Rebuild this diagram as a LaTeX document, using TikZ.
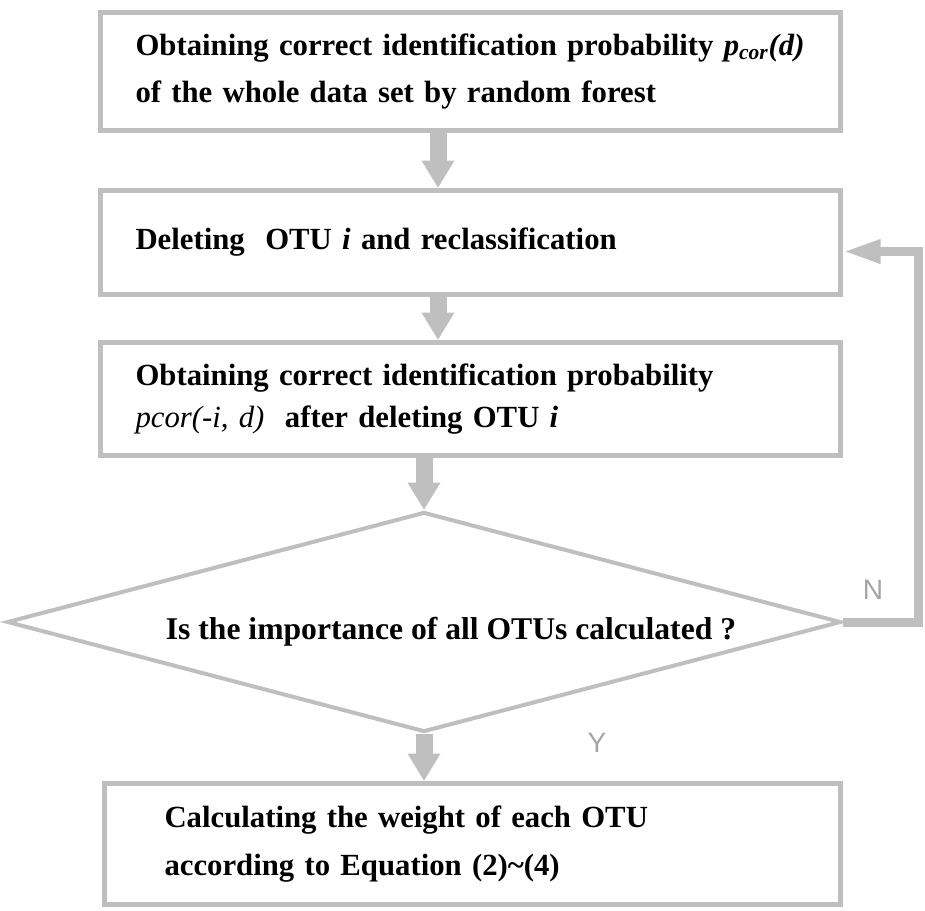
\documentclass[tikz,border=0pt]{standalone}
\usepackage{fontspec}
\setmainfont{Liberation Serif}
\newfontfamily\labelfont{Liberation Sans}
\usetikzlibrary{shapes.geometric, arrows.meta, positioning}
\definecolor{boxgray}{RGB}{191,191,191}
\definecolor{labelgray}{RGB}{165,165,165}
\tikzstyle{blockarrow}=[-{Triangle[width=0.62cm,length=0.55cm]}, line width=0.34cm, color=boxgray]
\tikzstyle{looparrow}=[-{Triangle[width=0.44cm,length=0.75cm]}, line width=0.18cm, color=boxgray]

\begin{document}
\begin{tikzpicture}[
  stepbox/.style={rectangle, draw=boxgray, line width=0.1cm, fill=white,
                  minimum width=14.8cm, inner xsep=0.7cm, text width=13.4cm,
                  align=left, font=\bfseries\fontsize{17.5}{27}\selectfont},
  decision/.style={diamond, draw=boxgray, line width=0.08cm, aspect=3.74,
                   minimum width=16.68cm, minimum height=4.4cm, inner sep=0pt},
  yesno/.style={font=\labelfont\fontsize{16}{18}\selectfont, text=labelgray}
]
\useasboundingbox (0,0) rectangle (18.5,-18.2);

\node[stepbox, minimum height=2.36cm] (fullset) at (9.41,-1.43)
  {Obtaining correct identification probability \textit{p\textsubscript{cor}(d)}\\of the whole data set by random forest};
\node[stepbox, minimum height=2.08cm, below=1.1cm of fullset] (delete)
  {Deleting~ OTU \textit{i} and reclassification};
\node[stepbox, minimum height=2.26cm, below=0.86cm of delete,
      font=\bfseries\fontsize{17.5}{24}\selectfont] (reprob)
  {Obtaining correct identification probability\\{\mdseries\itshape pcor(-i, d)}~ after deleting OTU \textit{i}};
\node[decision, below=1.04cm of reprob, xshift=-0.93cm,
      label={[font=\bfseries\fontsize{18}{20}\selectfont, xshift=0.54cm, yshift=-0.2cm]center:Is the importance of all OTUs calculated ?}] (alldone) {};
\node[stepbox, minimum width=14.72cm, inner xsep=1.2cm, text width=12.32cm,
      minimum height=2.42cm, below=0.94cm of alldone, xshift=0.97cm] (weight)
  {Calculating the weight of each OTU\\according to Equation (2)\textasciitilde(4)};

\draw[blockarrow] ([xshift=-0.65cm]fullset.south) -- ([xshift=-0.65cm]delete.north);
\draw[blockarrow] ([xshift=-0.65cm]delete.south) -- ([xshift=-0.65cm]reprob.north);
\draw[blockarrow] (reprob.south -| alldone.north) -- (alldone.north);
\draw[blockarrow] (alldone.south) -- (alldone.south |- weight.north);
\draw[looparrow] (alldone.east) -- ++(1.5cm,0) |- ([yshift=-0.18cm]delete.east);

\node[yesno] (nolabel) at (17.46,-11.8) {N};
\node[yesno] (yeslabel) at (11.94,-14.86) {Y};
\end{tikzpicture}
\end{document}
